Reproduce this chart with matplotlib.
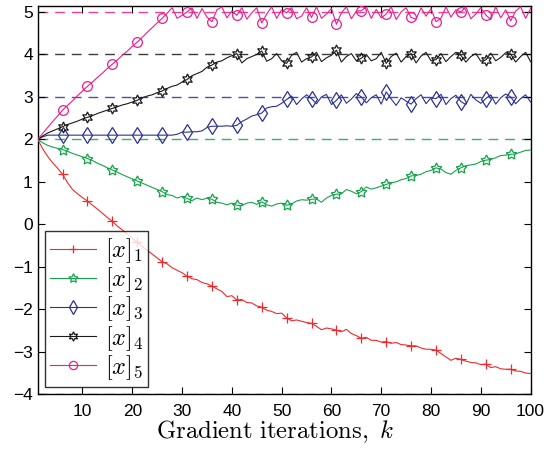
import numpy as np
import matplotlib
matplotlib.use("Agg")
import matplotlib.pyplot as plt

plt.rcParams['font.family'] = ['Liberation Sans', 'DejaVu Sans']
plt.rcParams['mathtext.fontset'] = 'cm'

# iterations k = 1..100
k = np.arange(1, 101)

x1 = [2.00, 1.78, 1.60, 1.45, 1.32, 1.18, 0.98, 0.82, 0.72, 0.63,
      0.55, 0.45, 0.36, 0.26, 0.16, 0.07, -0.04, -0.13, -0.23, -0.33,
      -0.42, -0.52, -0.61, -0.70, -0.79, -0.88, -0.93, -1.02, -1.08, -1.14,
      -1.22, -1.28, -1.30, -1.37, -1.40, -1.45, -1.52, -1.58, -1.70, -1.68,
      -1.78, -1.77, -1.84, -1.85, -1.92, -1.95, -2.02, -2.05, -2.10, -2.09,
      -2.20, -2.27, -2.25, -2.28, -2.31, -2.33, -2.40, -2.48, -2.44, -2.46,
      -2.49, -2.53, -2.47, -2.57, -2.62, -2.68, -2.66, -2.73, -2.73, -2.77,
      -2.76, -2.80, -2.78, -2.83, -2.84, -2.86, -2.86, -2.91, -2.94, -2.94,
      -2.96, -3.04, -3.12, -3.20, -3.15, -3.18, -3.22, -3.25, -3.26, -3.30,
      -3.29, -3.37, -3.35, -3.40, -3.41, -3.41, -3.45, -3.46, -3.50, -3.51]

x2 = [2.00, 1.92, 1.86, 1.82, 1.79, 1.76, 1.72, 1.67, 1.63, 1.59,
      1.55, 1.50, 1.44, 1.39, 1.33, 1.28, 1.23, 1.17, 1.12, 1.07,
      1.02, 0.97, 0.92, 0.87, 0.82, 0.77, 0.70, 0.68, 0.62, 0.66,
      0.61, 0.56, 0.62, 0.58, 0.62, 0.59, 0.52, 0.50, 0.46, 0.50,
      0.45, 0.44, 0.50, 0.52, 0.47, 0.53, 0.46, 0.43, 0.48, 0.50,
      0.45, 0.48, 0.55, 0.58, 0.57, 0.59, 0.60, 0.52, 0.62, 0.68,
      0.71, 0.72, 0.82, 0.78, 0.72, 0.77, 0.88, 0.83, 0.86, 0.90,
      0.94, 0.98, 1.00, 1.05, 1.08, 1.14, 1.15, 1.18, 1.24, 1.27,
      1.33, 1.30, 1.22, 1.18, 1.27, 1.33, 1.38, 1.40, 1.42, 1.48,
      1.51, 1.53, 1.57, 1.62, 1.63, 1.65, 1.66, 1.70, 1.74, 1.75]

x3 = [2.00, 2.06, 2.10, 2.10, 2.10, 2.10, 2.10, 2.10, 2.10, 2.10,
      2.10, 2.10, 2.10, 2.10, 2.10, 2.10, 2.10, 2.10, 2.10, 2.10,
      2.10, 2.10, 2.10, 2.10, 2.10, 2.10, 2.10, 2.10, 2.12, 2.17,
      2.17, 2.18, 2.18, 2.20, 2.28, 2.31, 2.31, 2.31, 2.32, 2.31,
      2.33, 2.42, 2.48, 2.55, 2.58, 2.62, 2.74, 2.77, 2.78, 2.85,
      2.94, 3.02, 2.82, 2.95, 3.05, 2.96, 2.84, 3.00, 3.06, 2.82,
      2.92, 3.05, 2.85, 2.95, 3.08, 3.00, 2.86, 2.98, 3.05, 2.83,
      3.12, 2.95, 2.80, 2.98, 2.90, 2.83, 2.96, 3.05, 2.84, 2.98,
      2.96, 3.06, 2.82, 2.96, 3.04, 2.89, 2.82, 3.06, 2.93, 2.85,
      2.96, 3.05, 2.83, 2.98, 3.07, 3.00, 2.84, 2.96, 3.05, 2.88]

x4 = [2.00, 2.08, 2.15, 2.20, 2.25, 2.30, 2.35, 2.39, 2.43, 2.48,
      2.52, 2.56, 2.61, 2.65, 2.69, 2.73, 2.77, 2.81, 2.84, 2.88,
      2.92, 2.98, 3.02, 3.05, 3.10, 3.14, 3.20, 3.25, 3.28, 3.35,
      3.41, 3.50, 3.55, 3.60, 3.70, 3.75, 3.82, 3.85, 3.92, 3.97,
      4.02, 3.80, 3.90, 3.95, 4.00, 4.08, 3.84, 3.90, 4.02, 3.85,
      3.79, 3.98, 4.05, 3.82, 3.90, 3.94, 4.05, 3.83, 3.92, 3.98,
      4.10, 3.82, 3.95, 4.02, 3.85, 3.91, 4.00, 3.85, 3.90, 4.05,
      3.79, 3.95, 4.03, 3.82, 3.95, 4.02, 3.80, 3.96, 4.05, 3.85,
      3.88, 4.02, 3.83, 3.95, 4.05, 3.98, 3.82, 3.95, 4.02, 3.84,
      3.87, 4.03, 3.85, 3.93, 4.04, 4.01, 3.82, 3.95, 4.05, 3.83]

x5 = [2.00, 2.14, 2.28, 2.42, 2.55, 2.69, 2.80, 2.91, 3.03, 3.14,
      3.25, 3.35, 3.46, 3.56, 3.67, 3.77, 3.87, 3.98, 4.08, 4.19,
      4.29, 4.40, 4.52, 4.63, 4.74, 4.85, 4.97, 5.10, 4.85, 4.92,
      5.00, 5.10, 4.85, 5.08, 4.88, 4.77, 5.05, 5.12, 4.86, 5.02,
      4.92, 5.10, 4.83, 4.98, 5.10, 4.74, 4.95, 5.12, 4.85, 5.05,
      4.98, 5.10, 4.84, 4.90, 5.10, 4.87, 5.12, 4.85, 4.95, 5.08,
      4.71, 4.98, 5.12, 4.84, 5.02, 5.03, 5.12, 4.85, 5.06, 4.86,
      4.95, 5.12, 4.82, 5.00, 5.10, 4.87, 4.83, 5.10, 4.90, 5.08,
      4.77, 4.85, 5.12, 4.88, 5.05, 5.00, 5.12, 4.84, 4.95, 5.10,
      4.93, 4.82, 5.12, 4.86, 5.05, 4.79, 5.02, 5.12, 4.85, 5.08]

targets = [-4, 2, 3, 4, 5]
labels = ['$[x]_1$', '$[x]_2$', '$[x]_3$', '$[x]_4$', '$[x]_5$']
colors = ['#ee2a2e', '#16a34c', '#2d3190', '#1a1a1a', '#ec1c8c']
markers = ['+', (5, 1, 0), 'd', (6, 1, 0), 'o']
msizes = [7, 8, 8, 8, 7]

fig = plt.figure(figsize=(5.47, 4.51), dpi=100)
ax = fig.add_axes([0.0689, 0.1257, 0.9011, 0.861])

series = [x1, x2, x3, x4, x5]
for i in range(5):
    ax.axhline(targets[i], color=colors[i], lw=1.0, ls=(0, (7, 5)), alpha=0.85, zorder=1)
for i in range(5):
    ax.plot(k, series[i], color=colors[i], lw=0.8, marker=markers[i],
            markevery=list(range(5, 100, 5)), ms=msizes[i],
            mfc='none', mec=colors[i], mew=0.9, label=labels[i], zorder=3)

ax.set_xlim(1, 100)
ax.set_ylim(-4, 5.14)
ax.set_xticks(range(10, 101, 10))
ax.set_yticks(range(-4, 6))
ax.tick_params(direction='in', top=True, right=True, labelsize=12.5, length=5, width=0.8)
ax.tick_params(axis='x', pad=7)
for s in ax.spines.values():
    s.set_linewidth(1.0)
ax.set_xlabel(r'$\mathrm{Gradient\ iterations,}\ k$', fontsize=17.8)
ax.xaxis.set_label_coords(0.4815, -0.062)

leg = ax.legend(loc='lower left', bbox_to_anchor=(0.0154, 0.0196), borderaxespad=0,
                fontsize=17.5, frameon=True, fancybox=False, edgecolor='black',
                handlelength=1.9, labelspacing=0.02, borderpad=0.2, handletextpad=0.35,
                markerscale=0.85)
leg.get_frame().set_linewidth(1.0)

fig.savefig('out.png', dpi=100)
